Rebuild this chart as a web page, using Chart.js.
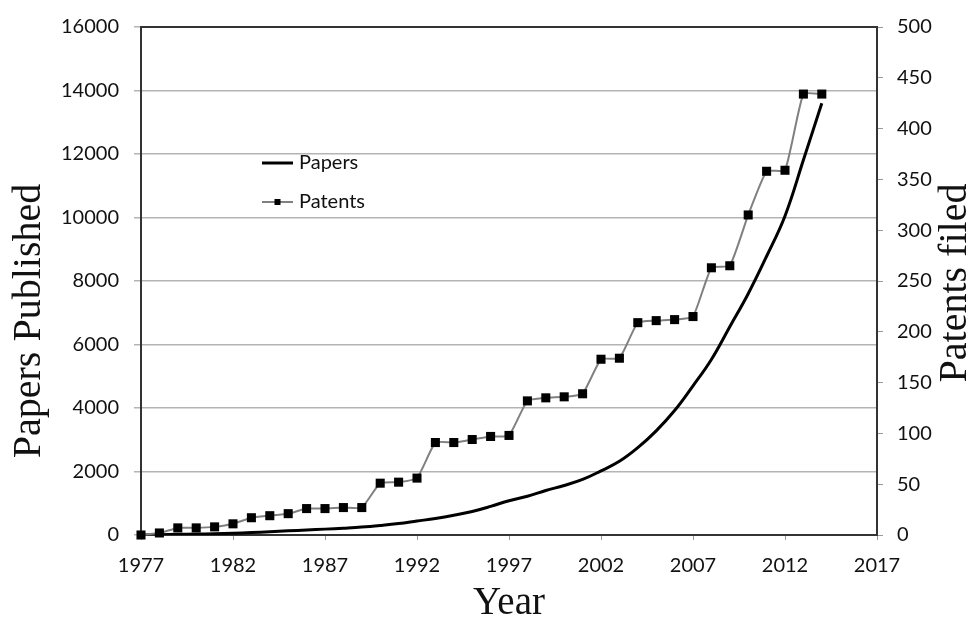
<!DOCTYPE html>
<html>
<head>
<meta charset="utf-8">
<script src="https://cdn.jsdelivr.net/npm/chart.js@4.4.1/dist/chart.umd.min.js"></script>
<style>
  html, body { margin: 0; padding: 0; background: #fff; }
  #wrap { width: 974px; height: 619px; position: relative; }
</style>
</head>
<body>
<div id="wrap"><canvas id="chart"></canvas></div>
<script>
// data
var years = [1977, 1978, 1979, 1980, 1981, 1982, 1983, 1984, 1985, 1986, 1987, 1988, 1989,
  1990, 1991, 1992, 1993, 1994, 1995, 1996, 1997, 1998, 1999, 2000, 2001, 2002, 2003,
  2004, 2005, 2006, 2007, 2008, 2009, 2010, 2011, 2012, 2013, 2014];
var papers = [0, 10, 20, 30, 40, 55, 75, 100, 130, 160, 185, 215, 250,
  300, 360, 440, 520, 620, 740, 900, 1080, 1220, 1400, 1560, 1750, 2020, 2320,
  2750, 3280, 3920, 4700, 5530, 6560, 7600, 8780, 10050, 11810, 13600];
var patents = [0, 2, 7, 7, 8, 11, 17, 19, 21, 26, 26, 27, 27,
  51, 52, 56, 91, 91, 94, 97, 98, 132, 135, 136, 139, 173, 174,
  209, 211, 212, 215, 263, 265, 315, 358, 359, 434, 434];

var seriesLabels = ['Papers', 'Patents'];
var xTitle = 'Year';
var leftTitle = 'Papers Published';
var rightTitle = 'Patents filed';

function toPoints(vals) {
  return years.map(function (yr, i) { return { x: yr, y: vals[i] }; });
}

var sans = 'Lato, "Liberation Sans", sans-serif';
var serif = '"Liberation Serif", "DejaVu Serif", serif';

var extras = {
  id: 'extras',
  beforeDatasetsDraw: function (chart) {
    var a = chart.chartArea, ctx = chart.ctx;
    ctx.save();
    ctx.strokeStyle = '#333';
    ctx.lineWidth = 2;
    ctx.strokeRect(a.left, a.top, a.right - a.left, a.bottom - a.top);
    ctx.restore();
  },
  afterDraw: function (chart) {
    var a = chart.chartArea, ctx = chart.ctx;
    ctx.save();
    ctx.fillStyle = '#111';
    ctx.font = '40px ' + serif;
    ctx.textAlign = 'center';
    ctx.textBaseline = 'middle';
    // left axis title
    ctx.save();
    ctx.translate(29, 321);
    ctx.rotate(-Math.PI / 2);
    ctx.fillText(leftTitle, 0, 0);
    ctx.restore();
    // right axis title, reads bottom to top
    ctx.save();
    ctx.translate(chart.width - 19, (a.top + a.bottom) / 2 + 2);
    ctx.rotate(-Math.PI / 2);
    ctx.fillText(rightTitle, 0, 0);
    ctx.restore();

    // legend inside the plot
    var lx = a.left + 121, ly1 = 163, ly2 = 202;
    ctx.strokeStyle = '#000';
    ctx.lineWidth = 3;
    ctx.beginPath(); ctx.moveTo(lx, ly1); ctx.lineTo(lx + 31, ly1); ctx.stroke();
    ctx.strokeStyle = '#808080';
    ctx.lineWidth = 2;
    ctx.beginPath(); ctx.moveTo(lx, ly2); ctx.lineTo(lx + 31, ly2); ctx.stroke();
    ctx.fillStyle = '#000';
    ctx.fillRect(lx + 12.5, ly2 - 3, 6, 6);
    ctx.font = '20px ' + sans;
    ctx.textAlign = 'left';
    ctx.fillStyle = '#111';
    ctx.fillText(seriesLabels[0], lx + 37, ly1);
    ctx.fillText(seriesLabels[1], lx + 37, ly2);
    ctx.restore();
  }
};

var chart = new Chart(document.getElementById('chart'), {
  type: 'line',
  data: {
    datasets: [
      {
        label: seriesLabels[1],
        data: toPoints(patents),
        yAxisID: 'y2',
        borderColor: '#808080',
        borderWidth: 2,
        tension: 0.15,
        clip: false,
        pointStyle: 'rect',
        pointRadius: 6.4,
        pointBackgroundColor: '#000',
        pointBorderColor: '#000',
        pointBorderWidth: 0
      },
      {
        label: seriesLabels[0],
        data: toPoints(papers),
        yAxisID: 'y',
        borderColor: '#000',
        borderWidth: 3,
        tension: 0.4,
        pointRadius: 0
      }
    ]
  },
  options: {
    animation: false,
    responsive: true,
    maintainAspectRatio: false,
    layout: { padding: { top: 23, left: 0, right: 0, bottom: 0 } },
    plugins: {
      legend: { display: false },
      tooltip: { enabled: false }
    },
    scales: {
      x: {
        type: 'linear',
        min: 1977,
        max: 2017,
        afterFit: function (s) { s.height = 84; },
        afterBuildTicks: function (s) {
          var t = [];
          for (var v = 1977; v <= 2017; v += 5) t.push({ value: v });
          s.ticks = t;
        },
        grid: { drawOnChartArea: false, drawTicks: true, tickLength: 5, color: '#999' },
        border: { display: false },
        ticks: {
          padding: 14,
          color: '#111',
          font: { family: sans, size: 20 },
          maxRotation: 0,
          callback: function (v) { return String(v); }
        },
        title: {
          display: true,
          text: xTitle,
          color: '#111',
          font: { family: serif, size: 39, lineHeight: 0.8 },
          padding: { top: 0, bottom: 0 }
        }
      },
      y: {
        position: 'left',
        min: 0,
        max: 16000,
        afterFit: function (s) { s.width = 141; },
        grid: { color: '#b4b4b4', lineWidth: 1.5, tickLength: 7 },
        border: { display: false },
        ticks: {
          stepSize: 2000,
          padding: 15,
          color: '#111',
          font: { family: sans, size: 20 },
          callback: function (v) { return String(v); }
        }
      },
      y2: {
        position: 'right',
        min: 0,
        max: 500,
        afterFit: function (s) { s.width = 97; },
        grid: { drawOnChartArea: false, color: '#999', tickLength: 6 },
        border: { display: false },
        ticks: {
          stepSize: 50,
          padding: 14,
          color: '#111',
          font: { family: sans, size: 20 },
          callback: function (v) { return String(v); }
        }
      }
    }
  },
  plugins: [extras]
});
</script>
</body>
</html>
